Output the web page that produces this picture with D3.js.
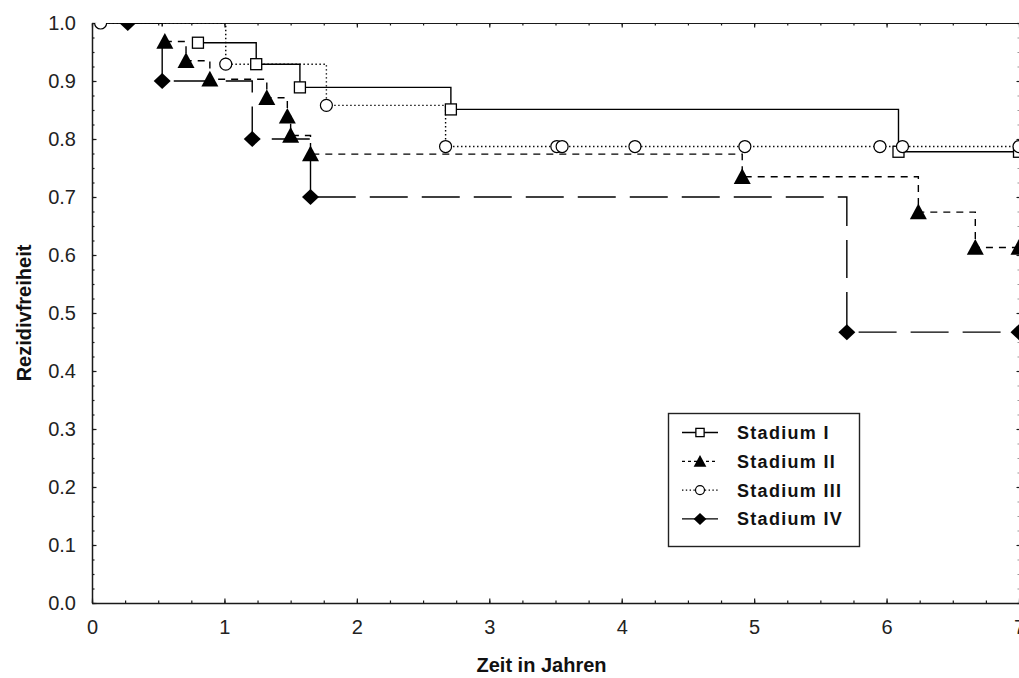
<!DOCTYPE html>
<html>
<head>
<meta charset="utf-8">
<script src="https://cdn.jsdelivr.net/npm/d3@7"></script>
<style>
  html, body { margin: 0; padding: 0; background: #fff; }
  svg { display: block; }
  text { font-family: "Liberation Sans", Arial, sans-serif; }
</style>
</head>
<body>
<svg id="chart" width="1019" height="678"></svg>
<script>
// Kaplan-Meier estimates of recurrence-free survival by tumour stage
const seriesNames = ["Stadium I", "Stadium II", "Stadium III", "Stadium IV"];

// time in years / survival probability at each marked point
const stage1Time = [0.80, 1.24, 1.57, 2.71, 6.09, 7.00];
const stage1Surv = [0.966, 0.929, 0.889, 0.851, 0.778, 0.778];

const stage2Time = [0.55, 0.71, 0.89, 1.32, 1.475, 1.50, 1.65, 4.91, 6.24, 6.67, 7.00];
const stage2Surv = [0.968, 0.935, 0.903, 0.871, 0.839, 0.806, 0.774, 0.735, 0.674, 0.613, 0.613];

const stage3Time = [0.065, 1.01, 1.77, 2.67, 3.51, 3.55, 4.10, 4.93, 5.95, 6.12, 7.00];
const stage3Surv = [1.0, 0.929, 0.858, 0.787, 0.787, 0.787, 0.787, 0.787, 0.787, 0.787, 0.787];

const stage4Time = [0.27, 0.53, 1.21, 1.65, 5.70, 7.00];
const stage4Surv = [1.0, 0.90, 0.80, 0.70, 0.467, 0.467];

const xTicks = [0, 1, 2, 3, 4, 5, 6, 7];
const yTicks = [0.0, 0.1, 0.2, 0.3, 0.4, 0.5, 0.6, 0.7, 0.8, 0.9, 1.0];

const svg = d3.select("#chart");
const plotL = 92, plotR = 1019, plotT = 23, plotB = 603;

const x = d3.scaleLinear().domain([0, 7]).range([plotL, plotR]);
const y = d3.scaleLinear().domain([0, 1]).range([plotB, plotT]);

const series = [
  { name: seriesNames[0], t: stage1Time, s: stage1Surv, dash: null, legendDash: null, marker: "square" },
  { name: seriesNames[1], t: stage2Time, s: stage2Surv, dash: "7,6", legendDash: "3,3", marker: "triangle" },
  { name: seriesNames[2], t: stage3Time, s: stage3Surv, dash: "1.4,2.6", legendDash: "1.4,2.4", marker: "circle" },
  { name: seriesNames[3], t: stage4Time, s: stage4Surv, dash: "38,14", legendDash: null, marker: "diamond" }
].map(d => ({ ...d, pts: d.t.map((t, i) => [t, d.s[i]]) }));

// plot-area clip
svg.append("defs").append("clipPath").attr("id", "plotClip")
  .append("rect").attr("x", plotL).attr("y", plotT)
  .attr("width", plotR - plotL).attr("height", plotB - plotT);

// ---- axes ----
const axisColor = "#1a1a1a";
function styleAxis(g) {
  g.select(".domain").attr("stroke", axisColor).attr("stroke-width", 1.5);
  g.selectAll(".tick line").attr("stroke", axisColor).attr("stroke-width", 1.2);
  g.selectAll(".tick text")
    .attr("fill", "#222")
    .style("font-size", "20px")
    .style("font-family", "'Liberation Sans', Arial, sans-serif");
}

const minorX = d3.range(0, 7.001, 0.25);
const minorY = d3.range(0, 1.0001, 0.025);

// bottom
svg.append("g").attr("transform", `translate(0,${plotB})`)
  .call(d3.axisBottom(x).tickValues(minorX).tickSize(-2.5).tickFormat("").tickSizeOuter(0))
  .call(styleAxis);
svg.append("g").attr("transform", `translate(0,${plotB})`)
  .call(d3.axisBottom(x).tickValues(xTicks).tickSize(-4.5).tickSizeOuter(0).tickPadding(17)
    .tickFormat(d3.format("d")))
  .call(styleAxis)
  .call(g => g.select(".domain").remove());

// top
svg.append("g").attr("transform", `translate(0,${plotT})`)
  .call(d3.axisTop(x).tickValues(minorX).tickSize(-2.5).tickFormat("").tickSizeOuter(0))
  .call(styleAxis)
  .call(g => g.select(".domain").attr("stroke-width", 1.2));
svg.append("g").attr("transform", `translate(0,${plotT})`)
  .call(d3.axisTop(x).tickValues(xTicks).tickSize(-4.5).tickFormat("").tickSizeOuter(0))
  .call(styleAxis)
  .call(g => g.select(".domain").remove());

// left
svg.append("g").attr("transform", `translate(${plotL},0)`)
  .call(d3.axisLeft(y).tickValues(minorY).tickSize(-2.5).tickFormat("").tickSizeOuter(0))
  .call(styleAxis);
svg.append("g").attr("transform", `translate(${plotL},0)`)
  .call(d3.axisLeft(y).tickValues(yTicks).tickSize(-4.5).tickSizeOuter(0).tickPadding(16)
    .tickFormat(d3.format(".1f")))
  .call(styleAxis)
  .call(g => g.select(".domain").remove());

// right
svg.append("g").attr("transform", `translate(${plotR + 0.5},0)`)
  .call(d3.axisRight(y).tickValues(minorY).tickSize(-2).tickFormat("").tickSizeOuter(0))
  .call(styleAxis)
  .call(g => g.selectAll(".tick line").attr("stroke", "#999"));
svg.append("g").attr("transform", `translate(${plotR + 0.5},0)`)
  .call(d3.axisRight(y).tickValues(yTicks).tickSize(-3).tickFormat("").tickSizeOuter(0))
  .call(styleAxis)
  .call(g => g.select(".domain").remove());

// axis titles
svg.append("text")
  .attr("x", (plotL + plotR) / 2 - 14).attr("y", 672)
  .attr("text-anchor", "middle")
  .style("font-size", "20px").style("font-weight", "bold")
  .attr("fill", "#111")
  .text("Zeit in Jahren");

svg.append("text")
  .attr("transform", `translate(31,${(plotT + plotB) / 2}) rotate(-90)`)
  .attr("text-anchor", "middle")
  .style("font-size", "20px").style("font-weight", "bold")
  .attr("fill", "#111")
  .text("Rezidivfreiheit");

// ---- markers ----
function drawMarker(g, type, cx, cy, scale) {
  const k = scale || 1;
  if (type === "square") {
    const s = 11 * k;
    g.append("rect").attr("x", cx - s / 2).attr("y", cy - s / 2)
      .attr("width", s).attr("height", s)
      .attr("fill", "#fff").attr("stroke", "#000").attr("stroke-width", 1.3);
  } else if (type === "circle") {
    g.append("circle").attr("cx", cx).attr("cy", cy).attr("r", 6 * k)
      .attr("fill", "#fff").attr("stroke", "#000").attr("stroke-width", 1.2);
  } else if (type === "triangle") {
    const w = 8.5 * k, h = 8.5 * k;
    g.append("path")
      .attr("d", `M${cx},${cy - h}L${cx + w},${cy + h * 0.85}L${cx - w},${cy + h * 0.85}Z`)
      .attr("fill", "#000");
  } else if (type === "diamond") {
    const w = 8.5 * k, h = 8 * k;
    g.append("path")
      .attr("d", `M${cx},${cy - h}L${cx + w},${cy}L${cx},${cy + h}L${cx - w},${cy}Z`)
      .attr("fill", "#000");
  }
}

// ---- curves ----
const plot = svg.append("g").attr("clip-path", "url(#plotClip)");
const step = d3.line().x(d => x(d[0])).y(d => y(d[1])).curve(d3.curveStepAfter);

series.forEach(sr => {
  plot.append("path")
    .attr("d", step(sr.pts))
    .attr("fill", "none")
    .attr("stroke", "#000")
    .attr("stroke-width", 1.4)
    .attr("stroke-dasharray", sr.dash);
});
series.forEach(sr => {
  const g = plot.append("g");
  sr.pts.forEach(p => drawMarker(g, sr.marker, x(p[0]), y(p[1])));
});

// ---- legend ----
const legend = svg.append("g");
legend.append("rect")
  .attr("x", 668.5).attr("y", 413.5).attr("width", 191).attr("height", 133)
  .attr("fill", "#fff").attr("stroke", "#222").attr("stroke-width", 1.4);

series.forEach((sr, i) => {
  const cy = 432.5 + i * 28.8;
  legend.append("line")
    .attr("x1", 682).attr("x2", 718).attr("y1", cy).attr("y2", cy)
    .attr("stroke", "#000").attr("stroke-width", 1.3)
    .attr("stroke-dasharray", sr.legendDash);
  drawMarker(legend, sr.marker, 700, cy, 0.75);
  legend.append("text")
    .attr("x", 737).attr("y", cy + 6.5)
    .style("font-size", "18px").style("font-weight", "bold")
    .style("letter-spacing", "1.3px")
    .attr("fill", "#111")
    .text(sr.name);
});
</script>
</body>
</html>
